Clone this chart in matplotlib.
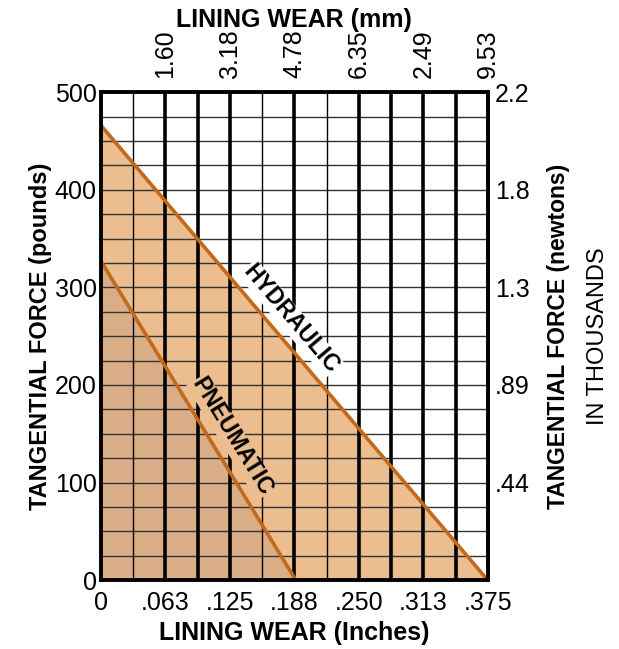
import matplotlib
matplotlib.use("Agg")
import matplotlib.pyplot as plt
import numpy as np

plt.rcParams['font.family'] = ['Liberation Sans Narrow', 'Liberation Sans', 'DejaVu Sans']

# data
x_ticks = [0, 0.0625, 0.125, 0.1875, 0.25, 0.3125, 0.375]
x_ticklabels = ['0', '.063', '.125', '.188', '.250', '.313', '.375']
mm_ticks = [0.0625, 0.125, 0.1875, 0.25, 0.3125, 0.375]
mm_labels = ['1.60', '3.18', '4.78', '6.35', '2.49', '9.53']
y_ticks = [0, 100, 200, 300, 400, 500]
n_ticks = [100, 200, 300, 400, 500]
n_labels = ['.44', '.89', '1.3', '1.8', '2.2']

hyd_x = [0, 0.375]
hyd_y = [466, 0]
pneu_x = [0, 0.189]
pneu_y = [327, 0]

# grid: vertical every 1/32 in, horizontal every 25 lb
vgrid = np.arange(1, 12) * 0.375 / 12
vthin = [0, 4, 6]          # these ones are drawn thin in the original
hgrid = np.arange(25, 500, 25)

light = '#EBBD8F'
dark = '#D9AE87'
line_c = '#C2691A'

fig = plt.figure(figsize=(6.19, 6.49), dpi=100)
ax = fig.add_axes([0.163, 0.106, 0.625, 0.752])

ax.fill_between(hyd_x, hyd_y, 0, color=light, zorder=1, lw=0)
ax.fill_between(pneu_x, pneu_y, 0, color=dark, zorder=1.5, lw=0)

for y in hgrid:
    ax.axhline(y, color='#333333', lw=1.0, zorder=2)
for i, x in enumerate(vgrid):
    ax.axvline(x, color='black', lw=1.0 if i in vthin else 2.6, zorder=2)

ax.plot(hyd_x, hyd_y, color=line_c, lw=2.6, zorder=3)
ax.plot(pneu_x, pneu_y, color=line_c, lw=2.6, zorder=3)

ax.text(0.184, 268, 'HYDRAULIC', rotation=-49.6, fontsize=16.5, fontweight='bold',
        ha='center', va='center', zorder=4,
        bbox=dict(facecolor='white', edgecolor='none', pad=0.5))
ax.text(0.127, 147, 'PNEUMATIC', rotation=-58.4, fontsize=16.5, fontweight='bold',
        ha='center', va='center', zorder=4,
        bbox=dict(facecolor=light, edgecolor='none', pad=0.5))

ax.set_xlim(0, 0.375)
ax.set_ylim(0, 500)
for s in ax.spines.values():
    s.set_linewidth(2.8)
    s.set_zorder(5)

ax.set_xticks(x_ticks)
ax.set_xticklabels(x_ticklabels, fontsize=18)
ax.set_yticks(y_ticks)
ax.set_yticklabels([str(v) for v in y_ticks], fontsize=18)
ax.tick_params(axis='x', length=0, pad=8)
ax.tick_params(axis='y', length=0, pad=3)
ax.set_xlabel('LINING WEAR (Inches)', fontsize=18, fontweight='bold', labelpad=4)
ax.set_ylabel('TANGENTIAL FORCE (pounds)', fontsize=17, fontweight='bold', labelpad=2)

axt = ax.twiny()
axt.set_xlim(ax.get_xlim())
axt.set_xticks(mm_ticks)
axt.set_xticklabels(mm_labels, fontsize=18, rotation=90)
axt.tick_params(length=0, pad=10)
axt.set_xlabel('LINING WEAR (mm)', fontsize=18, fontweight='bold', labelpad=2)

axr = ax.twinx()
axr.set_ylim(ax.get_ylim())
axr.set_yticks(n_ticks)
axr.set_yticklabels(n_labels, fontsize=18)
axr.tick_params(length=0, pad=5)
for a in (axt, axr):
    for s in a.spines.values():
        s.set_visible(False)

fig.text(0.902, 0.482, 'TANGENTIAL FORCE (newtons)', rotation=90, fontsize=16.5,
         fontweight='bold', ha='center', va='center')
fig.text(0.966, 0.482, 'IN THOUSANDS', rotation=90, fontsize=17,
         ha='center', va='center')

fig.savefig('out.png', dpi=100)
